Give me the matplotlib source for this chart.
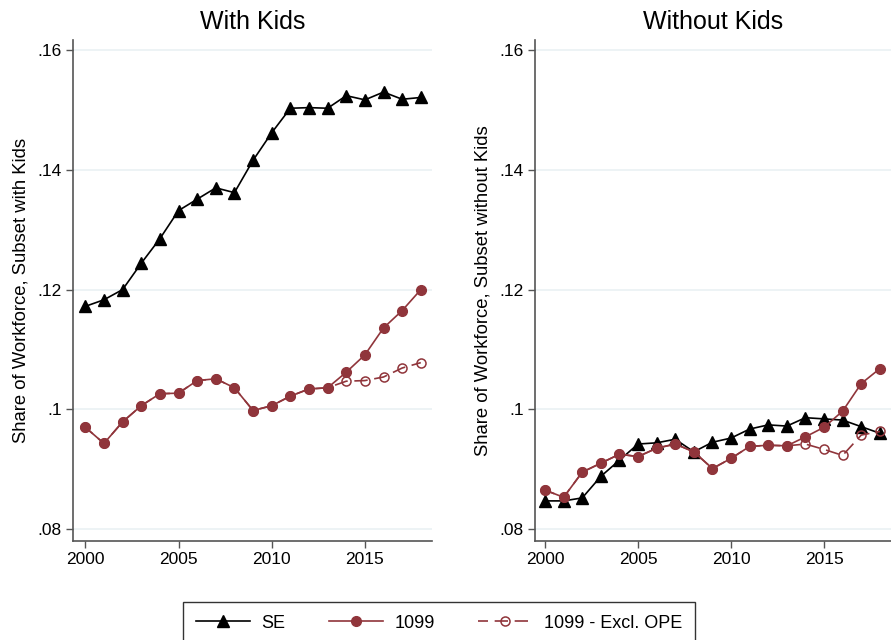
import matplotlib
matplotlib.use("Agg")
import matplotlib.pyplot as plt
import numpy as np

plt.rcParams['font.family'] = ['Liberation Sans', 'DejaVu Sans']

years = list(range(2000, 2019))

# with kids
se_kids = [0.1172, 0.1183, 0.1200, 0.1244, 0.1285, 0.1332, 0.1351, 0.1370, 0.1362,
           0.1416, 0.1462, 0.1503, 0.1504, 0.1503, 0.1524, 0.1517, 0.1530, 0.1518, 0.1521]
f1099_kids = [0.0970, 0.0943, 0.0979, 0.1006, 0.1026, 0.1027, 0.1048, 0.1051, 0.1036,
              0.0998, 0.1006, 0.1022, 0.1034, 0.1036, 0.1062, 0.1091, 0.1136, 0.1165, 0.1200]
excl_kids = [0.0970, 0.0943, 0.0979, 0.1006, 0.1026, 0.1027, 0.1048, 0.1051, 0.1036,
             0.0998, 0.1006, 0.1022, 0.1034, 0.1036, 0.1047, 0.1048, 0.1054, 0.1069, 0.1078]

# without kids
se_nokids = [0.0847, 0.0847, 0.0852, 0.0888, 0.0915, 0.0942, 0.0944, 0.0950, 0.0929,
             0.0945, 0.0952, 0.0967, 0.0974, 0.0972, 0.0986, 0.0984, 0.0982, 0.0971, 0.0960]
f1099_nokids = [0.0865, 0.0853, 0.0895, 0.0910, 0.0925, 0.0921, 0.0935, 0.0942, 0.0929,
                0.0901, 0.0918, 0.0938, 0.0940, 0.0939, 0.0954, 0.0970, 0.0997, 0.1043, 0.1068]
excl_nokids = [0.0865, 0.0853, 0.0895, 0.0910, 0.0925, 0.0921, 0.0935, 0.0942, 0.0929,
               0.0901, 0.0918, 0.0938, 0.0940, 0.0939, 0.0942, 0.0933, 0.0923, 0.0957, 0.0963]

yticks = [0.08, 0.10, 0.12, 0.14, 0.16]
ytick_labels = ['.08', '.1', '.12', '.14', '.16']
xticks = [2000, 2005, 2010, 2015]

maroon = '#90353b'

fig = plt.figure(figsize=(8.91, 6.4), dpi=100)
W, H = 891, 640

def panel(rect, se, f1099, excl, title, ylabel, xlim):
    l, t, r, b = rect
    ax = fig.add_axes([l / W, 1 - b / H, (r - l) / W, (b - t) / H])
    ax.plot(years, se, color='black', lw=1.2, marker='^', ms=8.5, label='SE', zorder=3)
    ax.plot(years, f1099, color=maroon, lw=1.2, marker='o', ms=7, label='1099', zorder=4)
    ax.plot(years, excl, color=maroon, lw=1.2, ls=(2, (8, 4)), marker='o', ms=6.5,
            mfc='none', mec=maroon, mew=1.1, label='1099 - Excl. OPE', zorder=5)
    ax.set_xlim(*xlim)
    ax.set_ylim(0.078, 0.1617)
    ax.set_yticks(yticks)
    ax.set_yticklabels(ytick_labels)
    ax.set_xticks(xticks)
    ax.yaxis.grid(True, color='#eaf1f3', lw=1.2)
    ax.set_axisbelow(True)
    for s in ['top', 'right']:
        ax.spines[s].set_visible(False)
    for s in ['left', 'bottom']:
        ax.spines[s].set_color('#555555')
        ax.spines[s].set_linewidth(1.2)
    ax.tick_params(direction='out', length=5, width=1, color='#555555',
                   labelsize=12.5, pad=3)
    ax.set_title(title, fontsize=18, pad=8)
    ax.set_ylabel(ylabel, fontsize=13.3, labelpad=6)
    return ax

ax1 = panel((73, 40, 432, 541), se_kids, f1099_kids, excl_kids,
            'With Kids', 'Share of Workforce, Subset with Kids', (1999.34, 2018.6))
ax2 = panel((535, 40, 891, 541), se_nokids, f1099_nokids, excl_nokids,
            'Without Kids', 'Share of Workforce, Subset without Kids', (1999.46, 2018.6))

h, lab = ax1.get_legend_handles_labels()
leg = fig.legend(h, lab, loc='upper center', bbox_to_anchor=(439 / W, 1 - 602 / H),
                 ncol=3, fontsize=13, frameon=True, fancybox=False, borderaxespad=0,
                 handlelength=3.0, columnspacing=2.4, borderpad=0.7, handletextpad=0.65)
leg.get_frame().set_edgecolor('black')
leg.get_frame().set_linewidth(1.0)

fig.savefig('out.png', dpi=100)
